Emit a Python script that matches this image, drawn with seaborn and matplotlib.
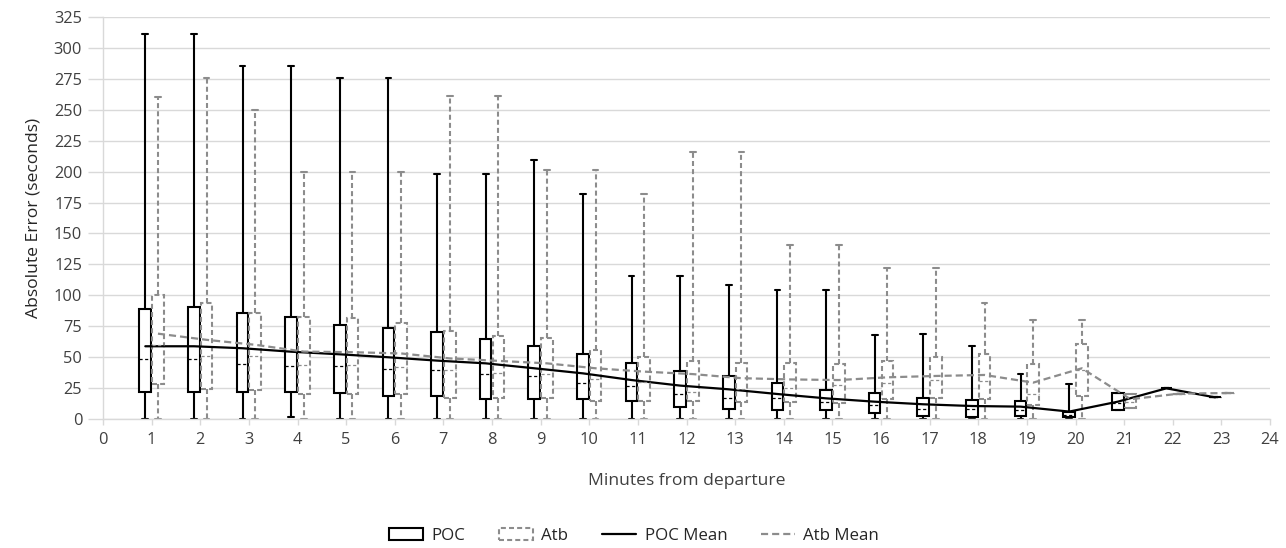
import numpy as np
import pandas as pd
import matplotlib
matplotlib.use("Agg")
import matplotlib.pyplot as plt
import seaborn as sns
from matplotlib.patches import Rectangle
from matplotlib.lines import Line2D

# ---------------- data ----------------
minutes = list(range(1, 24))

poc_min = [0, 0, 0, 1.4, 0, 0, 0, 0, 0, 0, 0, 0, 0, 0, 0, 0, 0, 0, 0, 1.0, 7.3, 24.8, 17.5]
poc_q1 = [21.7, 21.7, 21.7, 21.6, 20.7, 18.9, 18.9, 15.9, 15.9, 15.9, 14.8, 9.4, 7.8, 7.3, 7.3,
          4.6, 2.4, 1.9, 2.4, 1.4, 7.3, 24.8, 17.5]
poc_med = [48.3, 48.3, 44.2, 42.8, 42.8, 40.4, 39.6, 36.1, 34.8, 29.4, 26.7, 20.6, 17.3, 16.7, 14.0,
           11.3, 7.8, 8.0, 7.3, 3.4, 13.0, 24.8, 17.5]
poc_q3 = [89.0, 90.3, 85.4, 82.2, 76.0, 73.3, 70.1, 64.7, 59.0, 52.8, 45.0, 39.0, 35.0, 28.8, 23.4,
          21.3, 16.7, 15.4, 14.4, 5.4, 21.0, 24.8, 17.5]
poc_max = [311, 311, 285, 285, 276, 276, 198, 198, 209, 182, 116, 116, 108, 104, 104,
           68, 69, 59, 36, 28.5, 21.0, 24.8, 17.5]
poc_mean = [58.8, 58.8, 57.2, 54.4, 52.3, 49.9, 47.2, 45.0, 41.0, 36.9, 31.5, 27.0, 24.0, 20.2, 16.7,
            14.0, 11.9, 10.5, 10.0, 6.0, 14.0, 24.8, 17.5]

atb_min = [0, 0, 0, 0, 0, 0, 0, 0, 0, 0, 0, 0, 0, 0, 0, 0, 0, 0, 0, 0, 9.2, 20.5, 21.0]
atb_q1 = [28.0, 24.5, 23.4, 20.2, 20.2, 19.9, 17.3, 17.3, 17.3, 14.8, 14.8, 14.8, 13.5, 13.5, 13.2,
          16.2, 16.7, 15.9, 11.0, 18.9, 9.2, 20.5, 21.0]
atb_med = [60.0, 51.2, 50.9, 43.7, 43.7, 42.3, 39.6, 37.0, 36.6, 32.6, 30.0, 22.0, 24.0, 25.0, 27.5,
           28.8, 31.5, 31.0, 20.0, 40.0, 14.0, 20.5, 21.0]
atb_q3 = [100.0, 93.5, 85.4, 82.7, 81.4, 77.3, 71.4, 67.4, 65.2, 55.8, 50.4, 47.2, 45.0, 45.0, 44.2,
          46.6, 50.4, 52.7, 44.2, 60.4, 20.2, 20.5, 21.0]
atb_max = [260, 276, 250, 200, 200, 200, 261, 261, 201, 201, 182, 216, 216, 141, 141,
           122, 122, 94, 80, 80, 20.2, 20.5, 21.0]
atb_mean = [69.0, 64.0, 60.0, 54.5, 54.0, 53.0, 49.0, 47.0, 45.0, 41.0, 38.3, 36.3, 33.0, 32.0, 31.5,
            33.7, 34.8, 35.6, 29.4, 41.0, 16.0, 20.5, 21.0]

x_ticks = list(range(0, 25))
y_ticks = list(range(0, 326, 25))
series_names = ["POC", "Atb"]
legend_labels = ["POC", "Atb", "POC Mean", "Atb Mean"]

# --------- long table: 5 values per box give exact quartiles ---------
rows = []
for name, mins, q1s, meds, q3s, maxs in [
    ("POC", poc_min, poc_q1, poc_med, poc_q3, poc_max),
    ("Atb", atb_min, atb_q1, atb_med, atb_q3, atb_max),
]:
    for m, a, b, c, d, e in zip(minutes, mins, q1s, meds, q3s, maxs):
        for v in (a, b, c, d, e):
            rows.append({"minute": m, "series": name, "value": v})
df = pd.DataFrame(rows)

# ---------------- styling ----------------
sns.set_theme(style="white")
plt.rcParams["font.family"] = ["Open Sans", "DejaVu Sans"]

GRAY = "#8c8c8c"
GRID = "#d9d9d9"
TXT = "#404040"
DASH_BOX = (0, (2.4, 1.5))
DASH_MED = (0, (2.5, 2.0))
DASH_MEAN = (0, (3.2, 1.8))

W, H = 1286, 548
fig = plt.figure(figsize=(W / 100, H / 100), dpi=100)
ax = fig.add_axes([103 / W, 1 - 419 / H, (1270 - 103) / W, (419 - 17) / H])

common = dict(
    x="minute", y="value", hue="series", hue_order=series_names,
    native_scale=True, whis=(0, 100), width=0.52, gap=0.08, dodge=True,
    legend=False, palette={"POC": "white", "Atb": "white"}, fliersize=0, ax=ax,
)

sns.boxplot(
    data=df[df.series == "POC"], linecolor="black", linewidth=1.5,
    medianprops=dict(linestyle=DASH_MED, linewidth=0.9),
    **common,
)
sns.boxplot(
    data=df[df.series == "Atb"], linecolor=GRAY, linewidth=1.5,
    boxprops=dict(linestyle=DASH_BOX),
    whiskerprops=dict(linestyle=DASH_BOX),
    medianprops=dict(linestyle=DASH_MED, linewidth=0.9),
    **common,
)

off = 0.13
sns.lineplot(x=np.array(minutes) - off, y=poc_mean, color="black", lw=1.6, ax=ax)
sns.lineplot(x=np.array(minutes) + off, y=atb_mean, color=GRAY, lw=1.6,
             linestyle=DASH_MEAN, ax=ax)

# ---------------- axes ----------------
ax.set_xlim(0, 24)
ax.set_ylim(0, 325)
ax.set_xticks(x_ticks)
ax.set_xticklabels([str(t) for t in x_ticks])
ax.set_yticks(y_ticks)
ax.set_yticklabels([str(t) for t in y_ticks])
ax.grid(axis="y", color=GRID, lw=1)
ax.grid(axis="x", visible=False)
ax.set_axisbelow(True)
for s in ["top", "right"]:
    ax.spines[s].set_visible(False)
for s in ["left", "bottom"]:
    ax.spines[s].set_color(GRID)
    ax.spines[s].set_linewidth(1)
ax.tick_params(axis="y", length=11, width=1, color=GRID, pad=4,
               labelsize=11.8, labelcolor=TXT, left=True)
ax.tick_params(axis="x", length=4.5, width=1, color=GRID, pad=5,
               labelsize=11.8, labelcolor=TXT, bottom=True)

ax.set_xlabel("Minutes from departure", fontsize=12.6, color=TXT, labelpad=18)
ax.set_ylabel("Absolute Error (seconds)", fontsize=12.6, color="#262626", labelpad=9)

handles = [
    Rectangle((0, 0), 1, 1, fc="white", ec="black", lw=1.5),
    Rectangle((0, 0), 1, 1, fc="white", ec=GRAY, lw=1.5, ls=DASH_BOX),
    Line2D([], [], color="black", lw=1.6),
    Line2D([], [], color=GRAY, lw=1.6, ls=DASH_MEAN),
]
fig.legend(handles, legend_labels, loc="center", bbox_to_anchor=(634 / W, 1 - 536 / H),
           ncol=4, frameon=False, handlelength=2.0, handletextpad=0.5,
           columnspacing=2.0, fontsize=12.2, labelcolor="#262626")

fig.savefig("out.png", dpi=100)
